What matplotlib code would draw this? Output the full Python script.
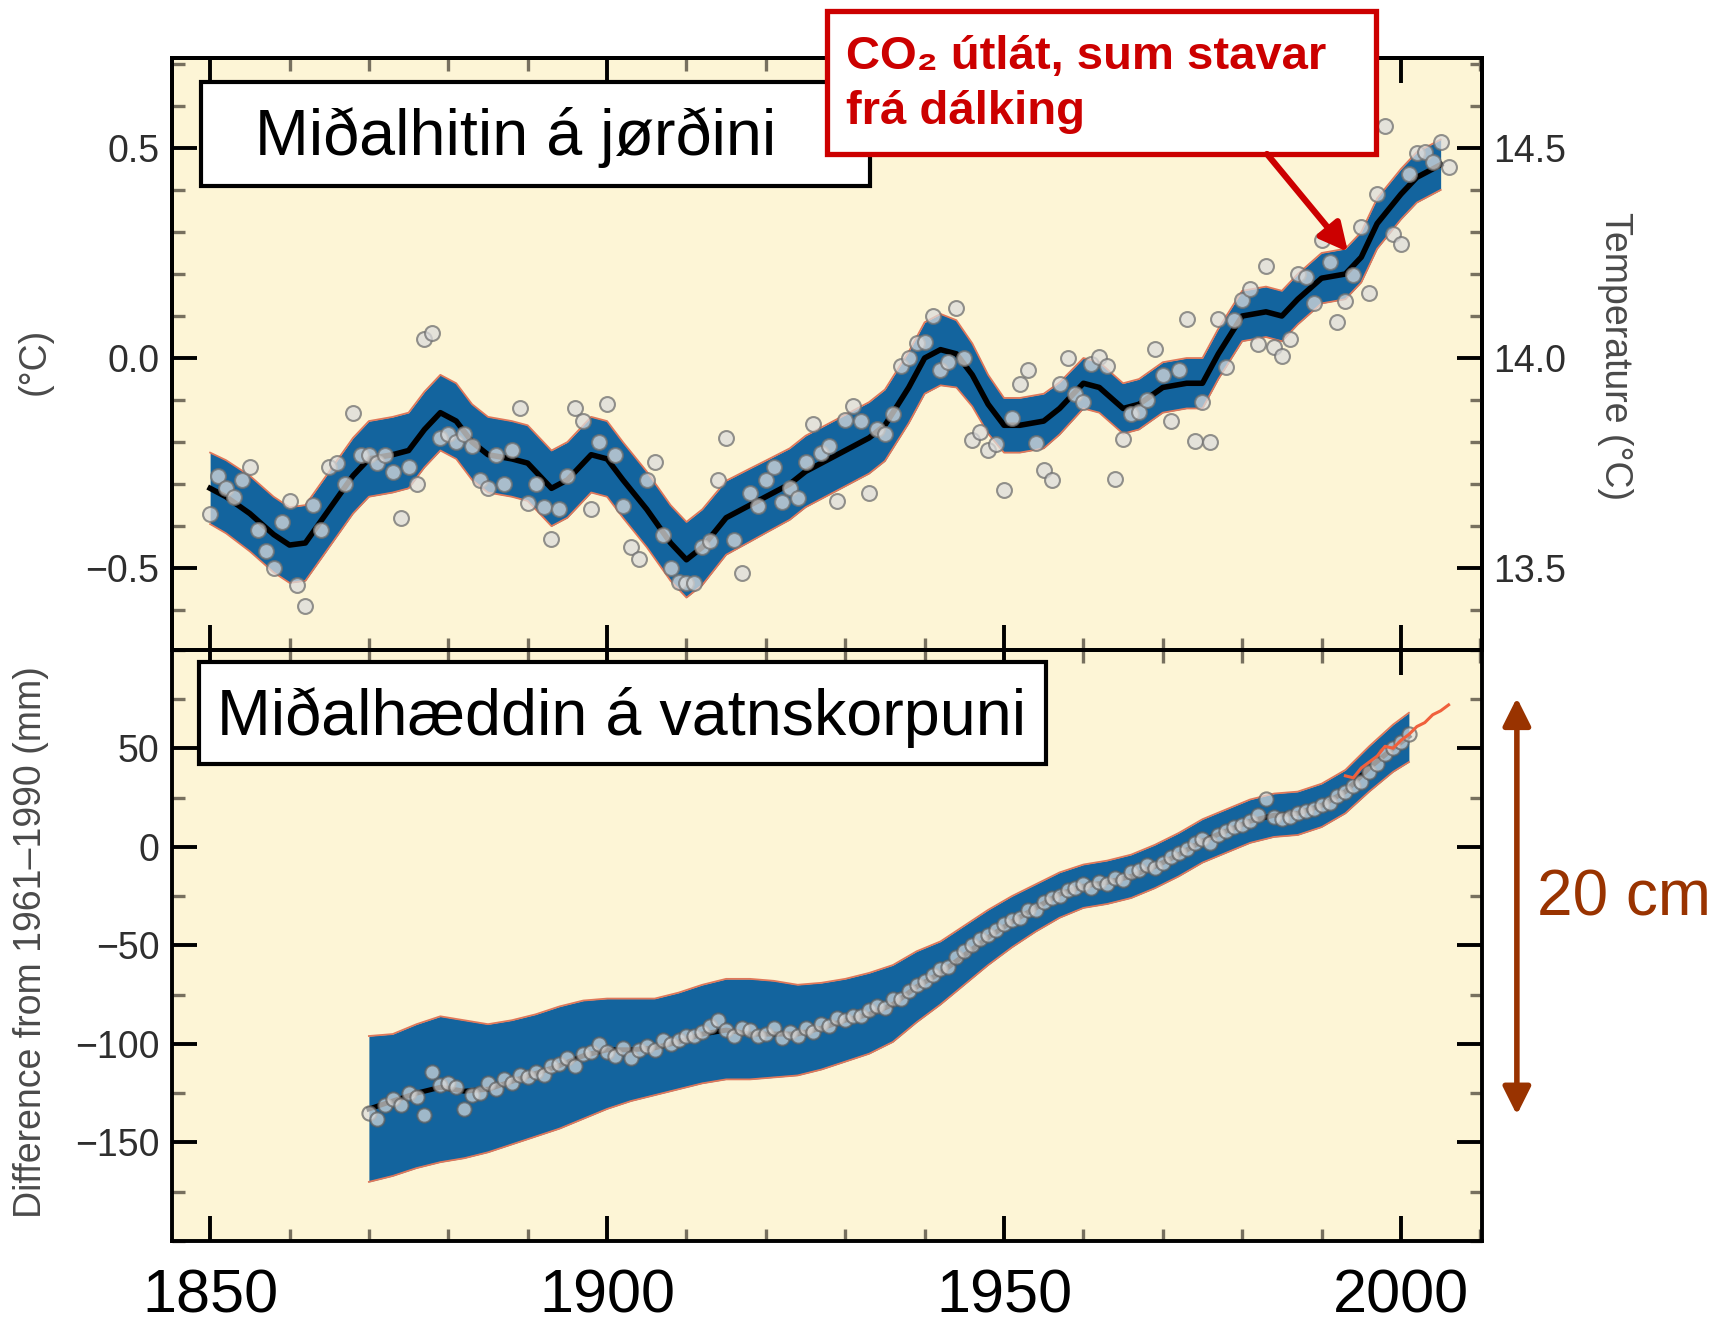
import numpy as np
import matplotlib
matplotlib.use('Agg')
from matplotlib import pyplot as plt
from matplotlib.patches import Rectangle, FancyArrowPatch
from matplotlib.ticker import MultipleLocator

matplotlib.rcParams.update({'font.family': ['Liberation Sans', 'DejaVu Sans']})

# --- global temperature, annual anomalies (deg C, rel. 1961-1990) ---
temp_years = list(range(1850, 2007))
temp_vals = [
    -0.37, -0.28, -0.31, -0.33, -0.29, -0.26, -0.41, -0.46, -0.50, -0.39,
    -0.34, -0.54, -0.59, -0.35, -0.41, -0.26, -0.25, -0.30, -0.13, -0.23,
    -0.23, -0.25, -0.23, -0.27, -0.38, -0.26, -0.30, 0.045, 0.06, -0.19,
    -0.18, -0.20, -0.18, -0.21, -0.29, -0.31, -0.23, -0.30, -0.22, -0.12,
    -0.345, -0.30, -0.355, -0.43, -0.36, -0.28, -0.12, -0.15, -0.36, -0.20,
    -0.11, -0.23, -0.353, -0.45, -0.478, -0.29, -0.248, -0.42, -0.50, -0.533,
    -0.535, -0.535, -0.45, -0.436, -0.29, -0.19, -0.434, -0.512, -0.32, -0.353,
    -0.29, -0.26, -0.343, -0.31, -0.334, -0.248, -0.158, -0.226, -0.21, -0.34,
    -0.147, -0.115, -0.15, -0.32, -0.17, -0.18, -0.134, -0.02, 0.0, 0.036,
    0.038, 0.10, -0.028, -0.01, 0.12, 0.0, -0.196, -0.176, -0.22, -0.205,
    -0.313, -0.142, -0.061, -0.029, -0.202, -0.266, -0.291, -0.061, 0.0, -0.085,
    -0.105, -0.013, 0.002, -0.02, -0.287, -0.192, -0.132, -0.128, -0.10, 0.022,
    -0.041, -0.15, -0.028, 0.094, -0.198, -0.105, -0.20, 0.094, -0.021, 0.09,
    0.139, 0.165, 0.034, 0.22, 0.026, 0.006, 0.046, 0.20, 0.194, 0.131,
    0.282, 0.229, 0.086, 0.136, 0.197, 0.312, 0.155, 0.391, 0.552, 0.296,
    0.271, 0.437, 0.488, 0.49, 0.467, 0.514, 0.455,
]

# smoothed temperature curve and its uncertainty half-width
temp_smooth_years = [
    1850, 1852, 1855, 1858, 1860, 1862, 1865, 1868, 1870, 1873,
    1875, 1877, 1879, 1881, 1883, 1885, 1888, 1890, 1893, 1895,
    1898, 1900, 1902, 1905, 1908, 1910, 1912, 1915, 1918, 1920,
    1923, 1925, 1928, 1930, 1933, 1935, 1938, 1940, 1942, 1944,
    1946, 1948, 1950, 1952, 1955, 1957, 1960, 1962, 1965, 1967,
    1970, 1973, 1975, 1977, 1980, 1983, 1985, 1987, 1990, 1993,
    1995, 1997, 2000, 2002, 2005,
]
temp_smooth = [
    -0.31, -0.33, -0.37, -0.42, -0.445, -0.44, -0.36, -0.28, -0.24, -0.23,
    -0.22, -0.17, -0.13, -0.15, -0.20, -0.23, -0.24, -0.25, -0.31, -0.29,
    -0.23, -0.24, -0.29, -0.36, -0.44, -0.48, -0.45, -0.38, -0.35, -0.33,
    -0.30, -0.27, -0.24, -0.22, -0.19, -0.16, -0.07, 0.0, 0.02, 0.01,
    -0.04, -0.11, -0.16, -0.16, -0.15, -0.12, -0.06, -0.07, -0.12, -0.11,
    -0.07, -0.06, -0.06, 0.01, 0.10, 0.11, 0.10, 0.14, 0.19, 0.20,
    0.24, 0.32, 0.39, 0.43, 0.46,
]
temp_err = [
    0.085, 0.087, 0.09, 0.09, 0.09, 0.09, 0.09, 0.09, 0.09, 0.09,
    0.09, 0.09, 0.09, 0.09, 0.09, 0.09, 0.09, 0.09, 0.09, 0.09,
    0.09, 0.09, 0.09, 0.09, 0.09, 0.09, 0.09, 0.088, 0.087, 0.086,
    0.085, 0.085, 0.085, 0.085, 0.085, 0.085, 0.085, 0.085, 0.085, 0.08,
    0.075, 0.07, 0.065, 0.065, 0.065, 0.062, 0.06, 0.06, 0.06, 0.06,
    0.06, 0.06, 0.06, 0.06, 0.06, 0.06, 0.06, 0.06, 0.06, 0.06,
    0.06, 0.06, 0.06, 0.06, 0.06,
]

# --- global mean sea level (mm, rel. 1961-1990) ---
sl_years = list(range(1870, 2002))
sl_vals = [
    -135, -138, -131, -128, -131, -125, -127, -136, -114, -121,
    -120, -122, -133, -126, -125, -120, -123, -118, -120, -116,
    -117, -114, -116, -111, -110, -107, -111, -105, -104, -100,
    -104, -106, -102, -107, -103, -101, -103, -98, -100, -98,
    -96, -96, -94, -91, -88, -93, -96, -92, -93, -96,
    -95, -92, -97, -94, -96, -92, -94, -90, -91, -87,
    -88, -86, -86, -83, -81, -82, -77, -77, -73, -70,
    -68, -65, -62, -61, -56, -53, -50, -47, -45, -42,
    -39, -37, -36, -32, -32, -28, -26, -25, -22, -21,
    -19, -21, -18, -19, -16, -17, -13, -12, -9, -11,
    -8, -5, -3, -1, 2, 4, 2, 6, 8, 10,
    11, 13, 16, 24, 15, 14, 15, 17, 18, 19,
    21, 22, 26, 28, 31, 33, 38, 42, 47, 50,
    53, 57,
]
sl_smooth_years = [
    1870, 1873, 1876, 1879, 1882, 1885, 1888, 1891, 1894, 1897,
    1900, 1903, 1906, 1909, 1912, 1915, 1918, 1921, 1924, 1927,
    1930, 1933, 1936, 1939, 1942, 1945, 1948, 1951, 1954, 1957,
    1960, 1963, 1966, 1969, 1972, 1975, 1978, 1981, 1984, 1987,
    1990, 1993, 1996, 1999, 2001,
]
sl_smooth = [
    -133, -129, -125, -122, -124, -123, -119, -115, -111, -106,
    -103, -103, -102, -99, -95, -93, -95, -95, -95, -92,
    -88, -85, -80, -71, -64, -55, -46, -38, -31, -24,
    -20, -18, -15, -10, -4, 3, 8, 13, 16, 17,
    21, 28, 40, 50, 56,
]
sl_band_hi = [
    -96, -95, -90, -86, -88, -90, -88, -85, -81, -78,
    -77, -77, -77, -74, -70, -67, -67, -68, -70, -69,
    -67, -64, -60, -53, -48, -40, -32, -25, -19, -13,
    -9, -7, -4, 1, 7, 14, 19, 24, 27, 28,
    32, 39, 51, 62, 68,
]
sl_band_lo = [
    -170, -167, -163, -160, -158, -155, -151, -147, -143, -138,
    -133, -129, -126, -123, -120, -118, -118, -117, -116, -113,
    -109, -105, -99, -89, -80, -70, -60, -51, -43, -36,
    -31, -29, -26, -21, -15, -8, -3, 2, 5, 6,
    10, 17, 28, 38, 43,
]
# satellite altimetry
sat_years = list(range(1993, 2007))
sat_vals = [36, 35, 40, 43, 46, 51, 50, 54, 57, 61, 63, 67, 69, 72]

W, H = 1715, 1336
CREAM = '#fdf5d6'
BLUE = '#13649e'
EDGE = '#e0785a'
DOT_FACE = '#dcdcdc'
TICKLAB = '#2e2e2e'
LABEL = '#4a4a4a'


def px(x, y):
    # pixel position (top-left origin) -> figure fraction
    return x / W, 1 - y / H


def style(ax):
    ax.set_facecolor(CREAM)
    for s in ax.spines.values():
        s.set_linewidth(2.8)
        s.set_color('black')
    ax.set_xlim(1845.2, 2010.2)
    ax.xaxis.set_major_locator(MultipleLocator(50))
    ax.xaxis.set_minor_locator(MultipleLocator(10))
    ax.tick_params(which='both', direction='in', top=True, bottom=True)
    ax.tick_params(which='major', length=18, width=2.8, color='black',
                   labelsize=27, labelcolor=TICKLAB, pad=9)
    ax.tick_params(which='minor', length=9, width=2.4, color='#77705f')


fig = plt.figure(figsize=(W / 100, H / 100), dpi=100)
ax1 = fig.add_axes([0.1003, 0.5137, 0.7638, 0.4429])
ax2 = fig.add_axes([0.1003, 0.0711, 0.7638, 0.4426])

# top panel: temperature
style(ax1)
ax1.set_ylim(-0.694, 0.714)
ax1.set_yticks([-0.5, 0.0, 0.5], ['\u22120.5', '0.0', '0.5'])
ax1.yaxis.set_minor_locator(MultipleLocator(0.1))
ax1.tick_params(axis='x', labelbottom=False)
ax1.tick_params(axis='y', right=False)
ts = np.array(temp_smooth)
te = np.array(temp_err)
ax1.fill_between(temp_smooth_years, ts - te, ts + te, color=BLUE, lw=0, zorder=2)
ax1.plot(temp_smooth_years, ts + te, color=EDGE, lw=1.3, zorder=2)
ax1.plot(temp_smooth_years, ts - te, color=EDGE, lw=1.3, zorder=2)
ax1.plot(temp_smooth_years, ts, color='black', lw=4.0, zorder=3,
         solid_joinstyle='round')
ax1.scatter(temp_years, temp_vals, s=115, facecolor=DOT_FACE, edgecolor='#707070',
            linewidth=1.5, alpha=0.75, zorder=4)
ax1.set_ylabel('(\u00b0C)', fontsize=27, color=LABEL)
ax1.yaxis.set_label_coords(-0.091, 0.487)

axr = ax1.twinx()
axr.set_ylim(-0.694 + 14.0, 0.714 + 14.0)
axr.set_yticks([13.5, 14.0, 14.5], ['13.5', '14.0', '14.5'])
axr.yaxis.set_minor_locator(MultipleLocator(0.1))
axr.tick_params(which='both', direction='in')
axr.tick_params(which='major', length=18, width=2.8, color='black',
                labelsize=27, labelcolor=TICKLAB, pad=8)
axr.tick_params(which='minor', length=9, width=2.4, color='#77705f')
for s in axr.spines.values():
    s.set_linewidth(2.8)
axr.set_ylabel('Temperature (\u00b0C)', fontsize=27, color=LABEL,
               rotation=-90)
axr.yaxis.set_label_coords(1.115, 0.497)

# bottom panel: sea level
style(ax2)
ax2.set_ylim(-200, 100)
ax2.set_yticks([-150, -100, -50, 0, 50],
               ['\u2212150', '\u2212100', '\u221250', '0', '50'])
ax2.yaxis.set_minor_locator(MultipleLocator(25))
ax2.tick_params(axis='y', which='both', left=True, right=True)
ax2.tick_params(axis='x', which='major', labelsize=44, labelcolor='black', pad=20)
ax2.fill_between(sl_smooth_years, sl_band_lo, sl_band_hi, color=BLUE, lw=0, zorder=2)
ax2.plot(sl_smooth_years, sl_band_hi, color=EDGE, lw=1.3, zorder=2)
ax2.plot(sl_smooth_years, sl_band_lo, color=EDGE, lw=1.3, zorder=2)
ax2.plot(sl_smooth_years, sl_smooth, color='black', lw=3.6, zorder=3)
ax2.scatter(sl_years, sl_vals, s=105, facecolor=DOT_FACE, edgecolor='#5e5e5e',
            linewidth=1.5, alpha=0.7, zorder=4)
ax2.plot(sat_years, sat_vals, color='#f0603c', lw=2.2, zorder=5)
ax2.set_ylabel('Difference from 1961\u20131990 (mm)', fontsize=27, color=LABEL)
ax2.yaxis.set_label_coords(-0.094, 0.506)

# 20 cm scale arrow
ax2.annotate('', xy=(2014.6, 75.6), xytext=(2014.6, -136),
             arrowprops=dict(arrowstyle='<|-|>', color='#993300', lw=4,
                             mutation_scale=42, shrinkA=0, shrinkB=0),
             annotation_clip=False)
ax2.text(2017.1, -26, '20 cm', fontsize=46, color='#993300', va='center',
         clip_on=False)

# title boxes
for (x0, y0, x1, y1), ec, lw in [((201, 82, 870, 186), 'black', 3),
                                 ((199, 662, 1046, 764), 'black', 3),
                                 ((827, 11, 1376, 154), '#cc0000', 3.8)]:
    fx, fy = px(x0, y1)
    fig.add_artist(Rectangle((fx, fy), (x1 - x0) / W, (y1 - y0) / H,
                             transform=fig.transFigure, facecolor='white',
                             edgecolor=ec, linewidth=lw, zorder=10))

fig.text(*px(255, 155), 'Mi\u00f0alhitin \u00e1 j\u00f8r\u00f0ini', fontsize=46.5,
         va='baseline', ha='left', zorder=11)
fig.text(*px(217, 735), 'Mi\u00f0alh\u00e6ddin \u00e1 vatnskorpuni', fontsize=46.5,
         va='baseline', ha='left', zorder=11)
fig.text(*px(846, 69), 'CO\u2082 \u00fatl\u00e1t, sum stavar', fontsize=34,
         fontweight='bold', color='#cc0000', va='baseline', ha='left', zorder=11)
fig.text(*px(846, 124), 'fr\u00e1 d\u00e1lking', fontsize=34,
         fontweight='bold', color='#cc0000', va='baseline', ha='left', zorder=11)

# red arrow from the CO2 box
fig.add_artist(FancyArrowPatch(
    px(1267, 154), px(1348, 252), transform=fig.transFigure,
    arrowstyle='-|>', color='#cc0000', lw=4.5, mutation_scale=42,
    shrinkA=0, shrinkB=0, zorder=12))

fig.savefig('out.png', dpi=100)
